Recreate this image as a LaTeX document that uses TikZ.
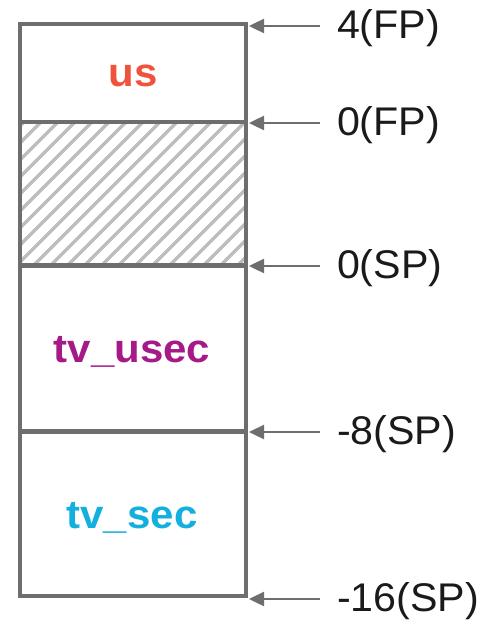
\documentclass[tikz,border=0pt]{standalone}
\usepackage{fontspec}
\setmainfont{Liberation Sans}
\newfontfamily\lblfont[FakeStretch=1.03]{Liberation Sans}
\newfontfamily\boldfont[FakeStretch=1.05]{Liberation Sans}
\usetikzlibrary{arrows.meta}
\definecolor{boxgray}{HTML}{6E6E6E}
\definecolor{hatchgray}{HTML}{BDBDBD}
\definecolor{usred}{HTML}{F0533D}
\definecolor{usecpurple}{HTML}{A61A88}
\definecolor{secblue}{HTML}{13B0DF}
\definecolor{txt}{HTML}{1A1A1A}
\tikzset{
  boxline/.style={draw=boxgray, line width=4pt},
  divline/.style={draw=boxgray, line width=5pt},
  hatchline/.style={draw=hatchgray, line width=3.5pt},
  ptr/.style={draw=boxgray, line width=2.4pt, -{Triangle[length=15pt,width=14pt]}},
  lbl/.style={anchor=west, inner sep=0pt, outer xsep=17pt, text=txt, font=\lblfont\fontsize{40}{46}\selectfont},
  field/.style={inner sep=0pt, font=\boldfont\bfseries\fontsize{40}{46}\selectfont}
}
\begin{document}
\begin{tikzpicture}[x=1pt,y=-1pt]
\useasboundingbox (0,0) rectangle (487,621);
% hatch
\begin{scope}
\clip (20,122) rectangle (246,265);
\foreach \k in {-10,...,25} {
  \draw[hatchline] (\k*17,265) -- (\k*17+143,122);
}
\end{scope}
% box
\draw[boxline] (20,24) rectangle (246,596);
\draw[boxline] (20,122) -- (246,122);
\draw[divline] (20,265) -- (246,265);
\draw[divline] (20,431) -- (246,431);
% points
\coordinate (p1) at (249,26);
\coordinate (p2) at (249,123);
\coordinate (p3) at (249,266);
\coordinate (p4) at (249,432);
\coordinate (p5) at (249,599);
% labels
\node[lbl] (l1) at (320,28) {4(FP)};
\node[lbl] (l2) at (320,125) {0(FP)};
\node[lbl] (l3) at (320,268) {0(SP)};
\node[lbl] (l4) at (320,434) {-8(SP)};
\node[lbl] (l5) at (320,601) {-16(SP)};
\draw[ptr] (l1.west |- p1) -- (p1);
\draw[ptr] (l2.west |- p2) -- (p2);
\draw[ptr] (l3.west |- p3) -- (p3);
\draw[ptr] (l4.west |- p4) -- (p4);
\draw[ptr] (l5.west |- p5) -- (p5);
% fields
\node[field, text=usred] (us) at (133,76) {us};
\node[field, text=usecpurple] (usec) at (132,352) {tv\_usec};
\node[field, text=secblue] (sec) at (132,518) {tv\_sec};
\end{tikzpicture}
\end{document}
